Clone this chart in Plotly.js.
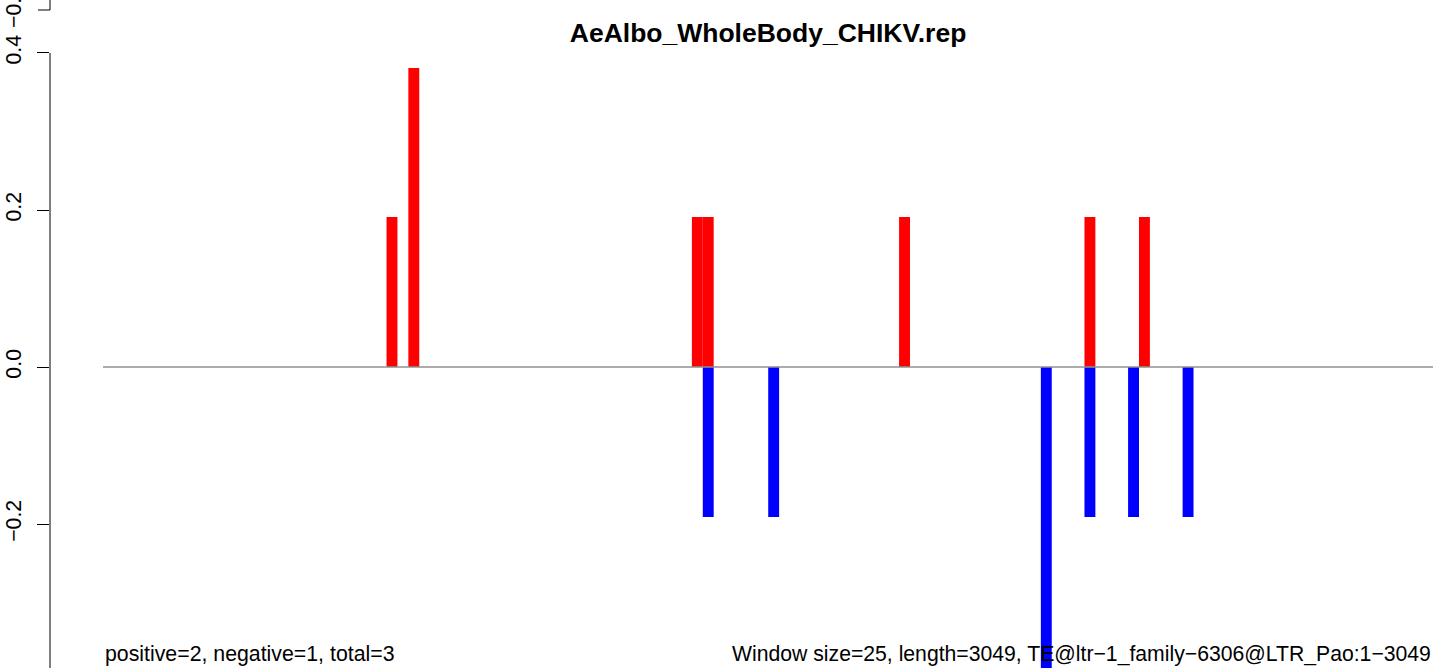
<!DOCTYPE html>
<html>
<head>
<meta charset="utf-8">
<script src="https://cdn.plot.ly/plotly-3.0.1.min.js"></script>
<style>html,body{margin:0;padding:0;background:#fff;}#chart{width:1433px;height:668px;}</style>
</head>
<body>
<div id="chart"></div>
<script>
// ---- data ----
const chartTitle = "AeAlbo_WholeBody_CHIKV.rep";
const windowSize = 25;
const seqLength = 3049;
const positiveStarts = [650, 700, 1350, 1375, 1825, 2250, 2375];
const positiveValues = [0.191, 0.381, 0.191, 0.191, 0.191, 0.191, 0.191];
const negativeStarts = [1375, 1525, 2150, 2250, 2350, 2475];
const negativeValues = [-0.191, -0.191, -0.57, -0.191, -0.191, -0.191];
const leftNote = "positive=2, negative=1, total=3";
const rightNote = "Window size=25, length=3049, TE@ltr\u22121_family\u22126306@LTR_Pao:1\u22123049";
const yTicks = [-0.4, -0.2, 0, 0.2, 0.4];

const FONT = "Liberation Sans, Arial, Helvetica, sans-serif";

const traces = [
  {type:'bar', x:positiveStarts, y:positiveValues, width:windowSize, offset:0,
   marker:{color:'#ff0000', line:{width:0}}, hoverinfo:'skip'},
  {type:'bar', x:negativeStarts, y:negativeValues, width:windowSize, offset:0,
   marker:{color:'#0000ff', line:{width:0}}, hoverinfo:'skip'}
];

const layout = {
  width:1433, height:668,
  margin:{l:50, r:0, t:0, b:0, pad:0},
  paper_bgcolor:'#ffffff', plot_bgcolor:'#ffffff',
  showlegend:false, barmode:'overlay',
  font:{family:FONT, size:21, color:'#000'},
  title:{text:'<b>'+chartTitle+'</b>', font:{family:FONT, size:26.5, color:'#000'},
         xref:'paper', x:0.5192, xanchor:'center', yref:'container', y:0.951, yanchor:'middle'},
  xaxis:{range:[-121.5, seqLength], visible:false, showgrid:false, zeroline:false, fixedrange:true},
  yaxis:{range:[-0.3834, 0.4675], tickvals:yTicks.slice(1), tickformat:'.1f',
         ticks:'outside', ticklen:12, tickwidth:1, tickcolor:'#000',
         tickangle:-90, ticklabelstandoff:7,
         tickfont:{family:FONT, size:21.3, color:'#000'},
         showline:false, showgrid:false, zeroline:false, fixedrange:true},
  shapes:[
    // main y-axis line from top tick down
    {type:'line', xref:'paper', yref:'y', x0:0, x1:0, y0:yTicks[yTicks.length-1], y1:yTicks[0]-0.1,
     line:{color:'#000', width:1}, layer:'above'},
    // remnant of the panel above: axis end and its tick
    {type:'line', xref:'paper', yref:'paper', x0:0, x1:0, y0:1-10/668, y1:1.02,
     line:{color:'#000', width:1}, layer:'above'},
    {type:'line', xref:'paper', yref:'paper', x0:-12/1383, x1:0, y0:1-10/668, y1:1-10/668,
     line:{color:'#000', width:1}, layer:'above'},
    // zero line
    {type:'line', xref:'x', yref:'y', x0:0, x1:seqLength, y0:0, y1:0,
     line:{color:'#909090', width:1.3}, layer:'above'}
  ],
  annotations:[
    {text:leftNote, xref:'x', x:0, xanchor:'left', yref:'paper', y:(668-654)/668, yanchor:'middle',
     showarrow:false, font:{family:FONT, size:21.3, color:'#000'}},
    {text:rightNote, xref:'x', x:seqLength, xanchor:'right', yref:'paper', y:(668-654)/668, yanchor:'middle',
     showarrow:false, font:{family:FONT, size:21.2, color:'#000'}},
    // cut-off tick labels at the page edges
    {text:'\u22120.4', xref:'paper', x:-36/1383, xanchor:'center', yref:'y', y:yTicks[0], yanchor:'middle',
     textangle:-90, showarrow:false, font:{family:FONT, size:21.3, color:'#000'}},
    {text:'\u22120.4', xref:'paper', x:-36/1383, xanchor:'center', yref:'paper', y:1-7/668, yanchor:'middle',
     textangle:-90, showarrow:false, font:{family:FONT, size:21.3, color:'#000'}}
  ]
};

Plotly.newPlot('chart', traces, layout, {staticPlot:true, displayModeBar:false});
</script>
</body>
</html>
